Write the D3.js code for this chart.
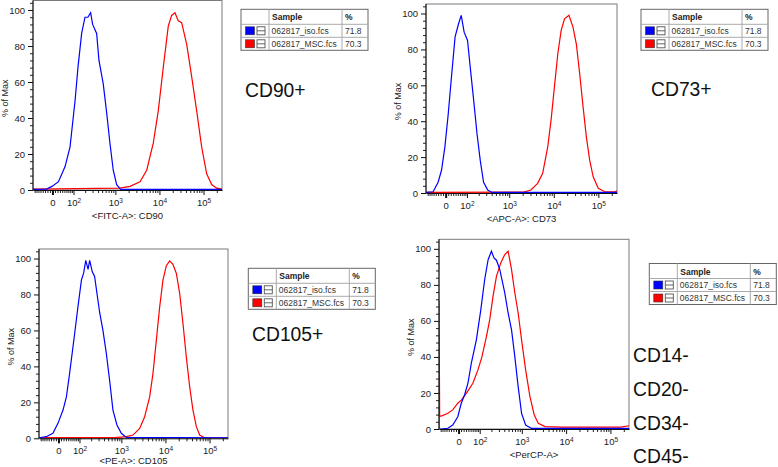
<!DOCTYPE html>
<html>
<head>
<meta charset="utf-8">
<script src="https://cdn.jsdelivr.net/npm/d3@7"></script>
<style>
  html, body { margin: 0; padding: 0; background: #fff; }
  svg { display: block; }
  text { font-family: "Liberation Sans", Arial, sans-serif; }
</style>
</head>
<body>
<svg id="chart" width="778" height="467"></svg>
<script>
// ---------------- DATA (fluorescence intensity, % of Max) ----------------
const cd90Iso = [[-90,0.3],[-24,0.5],[-2,2],[24,4.6],[53,13],[79,24],[111,50],[132,68],[164,87],[198,96],[233,96],[270,98.5],[301,92],[373,87],[422,72],[529,59],[633,43],[753,26],[895,11],[1070,3],[1320,0.4],[262144,0.3]];
const cd90Msc = [[-90,0.5],[1270,1],[2150,2],[3620,4.6],[5140,11],[7240,26],[9400,44],[12200,68],[15850,91],[18900,97],[22500,98.5],[26700,94],[31900,93],[41400,81],[53800,63],[69850,44],[90640,24],[117800,9],[152900,3],[198600,1],[262144,0.5]];

const cd73Iso = [[-90,0.3],[-52,0.7],[-30,6],[-16,12.8],[-3,25.7],[10,44],[24,66.5],[38,87],[53,94],[67,99],[83,89.6],[104,85],[123,70],[150,52],[182,33],[218,18],[261,6],[325,1.7],[410,0.3],[262144,0.3]];
const cd73Msc = [[-90,0.4],[2122,0.5],[3059,1.7],[4340,5.4],[5633,11],[7313,25.7],[8690,40.6],[10320,59],[12320,77.6],[14640,90.6],[17400,97],[21900,99],[27000,92.4],[32070,83],[38100,66.5],[45450,48],[54000,31],[64160,18],[76650,9],[99500,2.6],[140400,0.7],[240000,0.7],[262144,1.2]];

const cd105Iso = [[-90,0.3],[-51,0.9],[-22,2.8],[-2,8.3],[18,15.7],[32,23],[46,36],[71,58],[90,73],[113,88],[130,92],[147,99],[168,94],[184,99],[213,92.6],[242,90],[281,79],[318,70],[379,60],[455,47],[541,32],[643,15.7],[793,7.4],[999,2.8],[1298,0.5],[262144,0.3]];
const cd105Msc = [[-90,0.4],[703,0.4],[1298,0.9],[1834,1.8],[2602,5.5],[3379,12],[4384,23],[5209,36],[6221,54.6],[7391,73],[8783,88],[10490,96],[12460,98.7],[14800,96.8],[17680,91.7],[21010,80.6],[24950,64],[29800,45],[35410,28.7],[42080,15.7],[50220,6.5],[59660,1.8],[77480,0.3],[262144,0.3]];

const negIso = [[-90,0],[-77,0],[-44,0.4],[-23,2.2],[-3,6.8],[10.6,14.3],[24,19],[38,25.4],[53.5,36.6],[79.7,49.5],[107,66],[136,83],[166,94],[200,98.7],[230,95],[263,93.7],[315,88.5],[410,75.5],[489,64.4],[585,55],[696,40],[827,23.5],[988,8.7],[1220,2.2],[1668,0.3],[262144,0.3]];
const negMsc = [[-90,0],[-90,71],[-86,7.2],[-77,7.2],[-44,8.7],[-23,10.6],[-3,14.3],[10.6,16],[31,19.8],[61,25.4],[89,32.8],[115,40],[151,51.4],[182,60.7],[218,73.6],[263,84.7],[332,92.2],[410,96.8],[489,98.7],[585,88.5],[696,75.5],[827,64.4],[988,49.5],[1220,32.8],[1527,18],[1912,7.8],[2355,3.2],[3343,1.3],[7995,1],[167800,1],[262144,1.8]];

const xTitles = ["<FITC-A>: CD90", "<APC-A>: CD73", "<PE-A>: CD105", "<PerCP-A>"];
const markerLabels = [["CD90+"], ["CD73+"], ["CD105+"], ["CD14-", "CD20-", "CD34-", "CD45-"]];
const sampleNames = ["062817_iso.fcs", "062817_MSC.fcs"];
const samplePct = ["71.8", "70.3"];
const sampleColors = ["#0000ff", "#ff0000"];
const xMajorTicks = [0, 100, 1000, 10000, 100000];
const yMajorTicks = [0, 20, 40, 60, 80, 100];
const xDomain = [-90, 262144];
const yDomain = [0, 105.3];

// ---------------- layout ----------------
const panels = [
  {left: 33,  right: 222, top: 0.5, bottom: 190,   iso: cd90Iso,  msc: cd90Msc,  title: xTitles[0], tOff: 28.5, lg: [241, 9.3],   lab: markerLabels[0], labX: 245, labY: [97]},
  {left: 426, right: 617, top: 4,   bottom: 193,   iso: cd73Iso,  msc: cd73Msc,  title: xTitles[1], tOff: 28.5, lg: [641, 9.3],   lab: markerLabels[1], labX: 651, labY: [96]},
  {left: 39,  right: 228, top: 249, bottom: 438.3, iso: cd105Iso, msc: cd105Msc, title: xTitles[2], tOff: 26,   lg: [248.3, 268.3], lab: markerLabels[2], labX: 252, labY: [341]},
  {left: 439, right: 629, top: 239.3, bottom: 429, iso: negIso,   msc: negMsc,   title: xTitles[3], tOff: 29,   lg: [649.3, 263.5], lab: markerLabels[3], labX: 633, labY: [362, 396, 430, 463]}
];

const svg = d3.select("#chart");
svg.append("rect").attr("width", 778).attr("height", 467).attr("fill", "#fff");

// biexponential-like (arcsinh) display transform built on a d3 linear scale
const W = 75;
const T = v => Math.asinh(v / W);
function biexScale(domain, range) {
  const lin = d3.scaleLinear().domain(domain.map(T)).range(range);
  const s = v => lin(T(v));
  s.domain = () => domain.slice();
  s.range = () => lin.range();
  s.copy = () => biexScale(domain, range);
  return s;
}

// minor tick values
const xMinor = [];
for (let v = -80; v <= 90; v += 10) if (v !== 0) xMinor.push(v);
[100, 1000, 10000].forEach(dec => { for (let k = 2; k <= 9; k++) xMinor.push(k * dec); });
xMinor.push(200000);
const yMinor = [];
for (let v = 4; v <= 104; v += 4) if (v % 20 !== 0) yMinor.push(v);

panels.forEach((p, i) => {
  const g = svg.append("g");
  const x = biexScale(xDomain, [p.left, p.right]);
  const y = d3.scaleLinear().domain(yDomain).range([p.bottom, p.top]);

  // frame
  g.append("rect").attr("x", p.left).attr("y", p.top)
    .attr("width", p.right - p.left).attr("height", p.bottom - p.top)
    .attr("fill", "#fff").attr("stroke", "#7a7a7a").attr("stroke-width", 1);

  // clip
  const cid = "clip" + i;
  svg.append("clipPath").attr("id", cid).append("rect")
    .attr("x", p.left).attr("y", p.top - 2).attr("width", p.right - p.left).attr("height", p.bottom - p.top + 2);

  const line = d3.line().x(d => x(d[0])).y(d => y(d[1]));
  g.append("path").datum(p.msc).attr("d", line).attr("fill", "none")
    .attr("stroke", sampleColors[1]).attr("stroke-width", 1.2).attr("clip-path", `url(#${cid})`);
  g.append("path").datum(p.iso).attr("d", line).attr("fill", "none")
    .attr("stroke", sampleColors[0]).attr("stroke-width", 1.2).attr("clip-path", `url(#${cid})`);

  // x axis minor
  g.append("g").attr("transform", `translate(0,${p.bottom})`)
    .call(d3.axisBottom(x).tickValues(xMinor).tickSize(3).tickSizeOuter(0).tickFormat(""))
    .call(a => a.select(".domain").remove())
    .attr("color", "#222");
  // x axis major
  const xa = g.append("g").attr("transform", `translate(0,${p.bottom})`)
    .call(d3.axisBottom(x).tickValues(xMajorTicks).tickSize(5).tickPadding(4).tickSizeOuter(0)
      .tickFormat(d => d === 0 ? "0" : "10"))
    .attr("color", "#111");
  xa.select(".domain").attr("stroke", "#111");
  xa.selectAll(".tick line").attr("stroke-width", d => d === 0 ? 2 : 1);
  xa.selectAll(".tick text").attr("font-size", "9.5px").attr("fill", "#222")
    .attr("font-family", "Liberation Sans, Arial, sans-serif")
    .each(function(d) {
      if (d > 0) {
        d3.select(this).append("tspan").attr("dy", "-0.45em").attr("font-size", "6.5px")
          .text(Math.round(Math.log10(d)));
      }
    });

  // y axis
  g.append("g").attr("transform", `translate(${p.left},0)`)
    .call(d3.axisLeft(y).tickValues(yMinor).tickSize(3).tickSizeOuter(0).tickFormat(""))
    .call(a => a.select(".domain").remove())
    .attr("color", "#222");
  const ya = g.append("g").attr("transform", `translate(${p.left},0)`)
    .call(d3.axisLeft(y).tickValues(yMajorTicks).tickSize(5).tickPadding(3).tickSizeOuter(0))
    .attr("color", "#111");
  ya.select(".domain").attr("d", `M0,${p.bottom}V${p.top}`);
  ya.selectAll(".tick text").attr("font-size", "9.5px").attr("fill", "#222")
    .attr("font-family", "Liberation Sans, Arial, sans-serif");

  // axis titles
  g.append("text").attr("x", (p.left + p.right) / 2).attr("y", p.bottom + p.tOff)
    .attr("text-anchor", "middle").attr("font-size", "9.5px").attr("fill", "#222").text(p.title);
  g.append("text").attr("transform", `translate(${p.left - 25},${(p.top + p.bottom) / 2 + 3}) rotate(-90)`)
    .attr("text-anchor", "middle").attr("font-size", "9px").attr("fill", "#222").text("% of Max");

  // legend table
  const [L, Tp] = p.lg;
  const lw = 127, lh = 41;
  const lg = svg.append("g");
  lg.append("rect").attr("x", L).attr("y", Tp).attr("width", lw).attr("height", lh)
    .attr("fill", "#fff").attr("stroke", "#666");
  lg.append("line").attr("x1", L).attr("x2", L + lw).attr("y1", Tp + 15).attr("y2", Tp + 15).attr("stroke", "#aaa");
  lg.append("line").attr("x1", L).attr("x2", L + lw).attr("y1", Tp + 28).attr("y2", Tp + 28).attr("stroke", "#aaa");
  lg.append("line").attr("x1", L + 28).attr("x2", L + 28).attr("y1", Tp).attr("y2", Tp + lh).attr("stroke", "#aaa");
  lg.append("line").attr("x1", L + 101).attr("x2", L + 101).attr("y1", Tp).attr("y2", Tp + lh).attr("stroke", "#aaa");
  lg.append("text").attr("x", L + 31).attr("y", Tp + 11).attr("font-size", "8.5px").attr("font-weight", "bold").attr("fill", "#222").text("Sample");
  lg.append("text").attr("x", L + 104).attr("y", Tp + 11).attr("font-size", "8.5px").attr("font-weight", "bold").attr("fill", "#222").text("%");
  sampleNames.forEach((nm, r) => {
    const cy = Tp + 15 + r * 13 + 6.5;
    lg.append("rect").attr("x", L + 4.5).attr("y", cy - 4).attr("width", 9).attr("height", 8)
      .attr("fill", sampleColors[r]).attr("stroke", "#333").attr("stroke-width", 0.6);
    lg.append("rect").attr("x", L + 16).attr("y", cy - 4).attr("width", 8).attr("height", 8)
      .attr("fill", "#fff").attr("stroke", "#555").attr("stroke-width", 0.9);
    lg.append("line").attr("x1", L + 16).attr("x2", L + 24).attr("y1", cy).attr("y2", cy)
      .attr("stroke", "#555").attr("stroke-width", 0.9);
    lg.append("text").attr("x", L + 30.5).attr("y", cy + 3).attr("font-size", "8.5px").attr("fill", "#333").text(nm);
    lg.append("text").attr("x", L + 104).attr("y", cy + 3).attr("font-size", "8.5px").attr("fill", "#333").text(samplePct[r]);
  });

  // marker labels (slightly condensed like the reference)
  p.lab.forEach((t, k) => {
    svg.append("text").attr("transform", `translate(${p.labX},${p.labY[k]}) scale(0.92,1)`)
      .attr("font-size", "21px").attr("fill", "#111").text(t);
  });
});
</script>
</body>
</html>
